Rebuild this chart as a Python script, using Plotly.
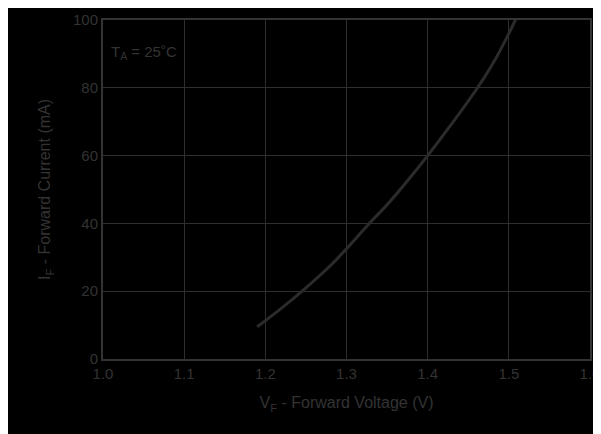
import plotly.graph_objects as go

voltage = [1.19, 1.22, 1.25, 1.28, 1.30, 1.33, 1.35, 1.38, 1.40, 1.43, 1.46, 1.48, 1.50, 1.511]
current = [9.5, 15.0, 21.0, 27.5, 32.5, 40.5, 45.5, 54.0, 60.0, 69.5, 79.5, 87.0, 96.0, 101.5]

x_ticks = [1.0, 1.1, 1.2, 1.3, 1.4, 1.5, 1.6]
y_ticks = [0, 20, 40, 60, 80, 100]

grid_col = "#2e2e2e"
text_col = "#333333"
font_fam = "Liberation Sans, Arial"

fig = go.Figure()
fig.add_trace(go.Scatter(x=voltage, y=current, mode="lines",
                         line=dict(color="#2b2b2b", width=3, shape="spline"),
                         showlegend=False, hoverinfo="skip"))

fig.add_annotation(xref="paper", yref="paper", x=0.012, y=0.905,
                   xanchor="left", yanchor="middle", showarrow=False,
                   text="T<sub>A</sub> = 25˚C",
                   font=dict(family=font_fam, size=15, color=text_col))

fig.update_xaxes(range=[1.0, 1.6], tickvals=x_ticks,
                 ticktext=[f"{v:.1f}" for v in x_ticks],
                 showgrid=True, gridcolor=grid_col, gridwidth=1,
                 showline=True, linecolor="#333333", linewidth=2, mirror=True,
                 zeroline=False, ticks="", automargin=False,
                 tickfont=dict(family=font_fam, size=15, color=text_col),
                 title=dict(text="V<sub>F</sub> - Forward Voltage (V)", standoff=16,
                            font=dict(family=font_fam, size=16, color=text_col)))
fig.update_yaxes(range=[0, 100], tickvals=y_ticks,
                 showgrid=True, gridcolor=grid_col, gridwidth=1,
                 showline=True, linecolor="#333333", linewidth=2, mirror=True,
                 zeroline=False, ticks="", automargin=False,
                 tickfont=dict(family=font_fam, size=15, color=text_col),
                 title=dict(text="I<sub>F</sub> - Forward Current (mA)", standoff=18,
                            font=dict(family=font_fam, size=16, color=text_col)))

fig.update_layout(width=593, height=426,
                  margin=dict(l=95, r=11, t=12, b=75),
                  paper_bgcolor="black", plot_bgcolor="black")

fig.write_html("out.html", config={"displayModeBar": False})
